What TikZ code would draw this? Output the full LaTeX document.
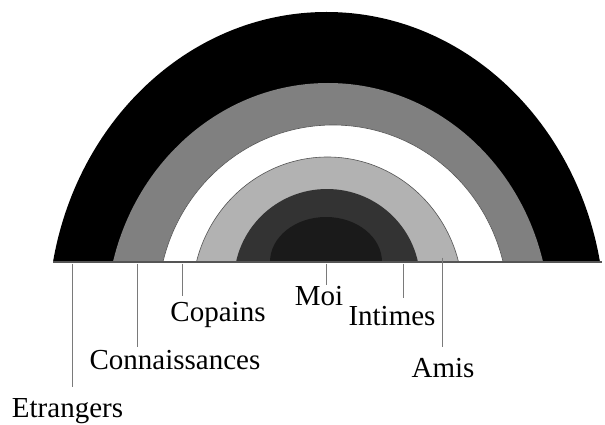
\documentclass[tikz,border=0pt]{standalone}
\usepackage{fontspec}
\setmainfont{Liberation Serif}
\definecolor{cmid}{gray}{0.5}
\definecolor{clight}{HTML}{B2B2B2}
\definecolor{cdark}{HTML}{333333}
\definecolor{cdarkest}{HTML}{1A1A1A}
\definecolor{cline}{HTML}{555555}
\definecolor{cleader}{HTML}{7A7A7A}
\begin{document}
\begin{tikzpicture}[x=1pt,y=-1pt,
  band/.style={draw=cline,line width=0.6pt},
  leader/.style={draw=cleader,line width=1pt},
  lbl/.style={anchor=base,inner sep=0pt,font=\fontsize{29}{30}\selectfont}]
\useasboundingbox (0,0) rectangle (605,425);
% bands (ellipses cut by the base line)
\begin{scope}
\clip (0,0) rectangle (605,261.5);
\fill[black] (326.5,319.8) ellipse[x radius=278.4,y radius=307.8];
\fill[cmid] (328,320.3) ellipse[x radius=221.8,y radius=237.3];
\filldraw[band,fill=white] (333,305) ellipse[x radius=175.1,y radius=180];
\filldraw[band,fill=clight] (327.5,296.8) ellipse[x radius=135.3,y radius=139.8];
\fill[cdark] (327,281.7) ellipse[x radius=93.1,y radius=92.7];
\fill[cdarkest] (326,262) ellipse[x radius=56,y radius=45];
\end{scope}
% baseline
\coordinate (bl) at (53,262);
\coordinate (br) at (602,262);
\draw[draw=cline,line width=1.6pt] (bl) -- (br);
% labels
\node[lbl] (etr) at (67.5,417) {Etrangers};
\node[lbl] (con) at (175,369) {Connaissances};
\node[lbl] (cop) at (218,321.5) {Copains};
\node[lbl] (moi) at (319,305) {Moi};
\node[lbl] (int) at (392,325) {Intimes};
\node[lbl] (ami) at (443,377) {Amis};
% leader endpoints
\coordinate (etrA) at (72.3,263.5);   \coordinate (etrB) at (72.3,387);
\coordinate (conA) at (137.7,263.5);  \coordinate (conB) at (137.7,347);
\coordinate (copA) at (182.7,263.5);  \coordinate (copB) at (182.7,296);
\coordinate (moiA) at (326,263.5);    \coordinate (moiB) at (326,285);
\coordinate (intA) at (403.3,263.5);  \coordinate (intB) at (403.3,298);
\coordinate (amiA) at (442.7,257.5);  \coordinate (amiB) at (442.7,347);
\draw[leader] (etrA) -- (etrB);
\draw[leader] (conA) -- (conB);
\draw[leader] (copA) -- (copB);
\draw[leader] (moiA) -- (moiB);
\draw[leader] (intA) -- (intB);
\draw[leader] (amiA) -- (amiB);
\end{tikzpicture}
\end{document}
